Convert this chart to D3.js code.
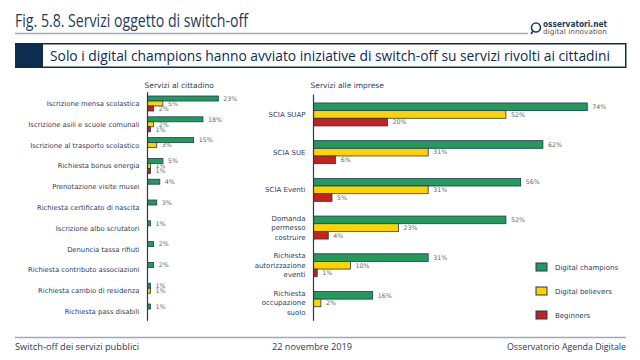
<!DOCTYPE html>
<html><head><meta charset="utf-8">
<script src="https://cdn.jsdelivr.net/npm/d3@7/dist/d3.min.js"></script>
<style>
body{margin:0;background:#fff;}
svg{display:block;font-family:"DejaVu Sans",sans-serif;}
</style></head>
<body><svg id="c" width="640" height="360"></svg>
<script>
const series = ["Digital champions","Digital believers","Beginners"];
const colors = ["#23995a","#ffd200","#c4211f"];

const citizenCats = ["Iscrizione mensa scolastica","Iscrizione asili e scuole comunali","Iscrizione al trasporto scolastico","Richiesta bonus energia","Prenotazione visite musei","Richiesta certificato di nascita","Iscrizione albo scrutatori","Denuncia tassa rifiuti","Richiesta contributo associazioni","Richiesta cambio di residenza","Richiesta pass disabili"];
const citizenChampions = [23,18,15,5,4,3,1,2,2,1,1];
const citizenBelievers = [5,2,3,1,0,0,0,0,0,1,0];
const citizenBeginners = [2,1,0,1,0,0,0,0,0,0,0];

const businessCats = ["SCIA SUAP","SCIA SUE","SCIA Eventi","Domanda|permesso|costruire","Richiesta|autorizzazione|eventi","Richiesta|occupazione|suolo"];
const businessChampions = [74,62,56,52,31,16];
const businessBelievers = [52,31,31,23,10,2];
const businessBeginners = [20,6,5,4,1,0];

const svg = d3.select("#c");
const navy = "#0d2d50";
const txt = "#2b405e";

// Header
svg.append("text").attr("x",15).attr("y",27).attr("font-size",19).attr("fill","#1f3a5a")
  .attr("font-family","'Open Sans',sans-serif").attr("textLength",233).attr("lengthAdjust","spacingAndGlyphs")
  .text("Fig. 5.8. Servizi oggetto di switch-off");
svg.append("line").attr("x1",15).attr("x2",528).attr("y1",33.5).attr("y2",33.5).attr("stroke","#9aabbd").attr("stroke-width",1.5);
// logo
svg.append("circle").attr("cx",536).attr("cy",27.5).attr("r",4.5).attr("fill","none").attr("stroke","#1f3a5a").attr("stroke-width",1.6);
svg.append("line").attr("x1",533).attr("y1",31).attr("x2",531).attr("y2",34).attr("stroke","#1f3a5a").attr("stroke-width",1.6);
svg.append("text").attr("x",543).attr("y",26.5).attr("font-size",8).attr("font-weight","bold").attr("fill","#1f3a5a")
  .attr("textLength",64).attr("lengthAdjust","spacingAndGlyphs").text("osservatori.net");
svg.append("text").attr("x",543).attr("y",33.5).attr("font-size",7).attr("fill","#555")
  .attr("textLength",64).attr("lengthAdjust","spacingAndGlyphs").text("digital innovation");

// Subtitle box
svg.append("rect").attr("x",15.75).attr("y",43.75).attr("width",610).attr("height",23.5).attr("fill","#fff").attr("stroke",navy).attr("stroke-width",1.5);
svg.append("rect").attr("x",15).attr("y",43).attr("width",28).attr("height",25).attr("fill",navy);
svg.append("text").attr("x",50).attr("y",60.5).attr("font-size",14.5).attr("fill",navy)
  .attr("font-family","'Open Sans',sans-serif").attr("textLength",560).attr("lengthAdjust","spacingAndGlyphs")
  .text("Solo i digital champions hanno avviato iniziative di switch-off su servizi rivolti ai cittadini");

// Footer
svg.append("line").attr("x1",15).attr("x2",626).attr("y1",337.5).attr("y2",337.5).attr("stroke","#9aabbd").attr("stroke-width",1.5);
const ft = svg.append("g").attr("font-size",9).attr("fill","#1f3a5a").attr("font-family","'Open Sans',sans-serif");
ft.append("text").attr("x",15).attr("y",350).attr("textLength",124).attr("lengthAdjust","spacingAndGlyphs").text("Switch-off dei servizi pubblici");
ft.append("text").attr("x",272).attr("y",350).attr("textLength",80).attr("lengthAdjust","spacingAndGlyphs").text("22 novembre 2019");
ft.append("text").attr("x",626).attr("y",350).attr("text-anchor","end").attr("textLength",119).attr("lengthAdjust","spacingAndGlyphs").text("Osservatorio Agenda Digitale");

function panel(cats, vals, opt){
  const g = svg.append("g");
  const y = d3.scaleBand().domain(cats).range(opt.yr).paddingInner(opt.pi).paddingOuter(opt.pi/2);
  const ys = d3.scaleBand().domain(series).range([0,y.bandwidth()]);
  const x = d3.scaleLinear().domain([0,opt.max]).range([opt.x0, opt.x1]);
  g.append("text").attr("x",opt.x0-3).attr("y",88).attr("font-size",7.5).attr("fill",txt).text(opt.title);
  cats.forEach((c,i)=>{
    series.forEach((s,j)=>{
      const v = vals[j][i];
      if(v<=0) return;
      g.append("rect").attr("x",x(0)).attr("y",y(c)+ys(s)).attr("width",x(v)-x(0)).attr("height",ys.bandwidth())
        .attr("fill",colors[j]).attr("stroke","#1f3a5a").attr("stroke-width",0.8);
      g.append("text").attr("x",x(v)+5).attr("y",y(c)+ys(s)+ys.bandwidth()/2+2.3).attr("font-size",opt.vfs).attr("fill","#666").text(v+"%");
    });
    const lines = c.split("|");
    const cy = y(c)+y.bandwidth()/2;
    const lh = 9.5;
    lines.forEach((l,k)=>{
      g.append("text").attr("x",opt.x0-8).attr("y",cy+(k-(lines.length-1)/2)*lh+2.5)
        .attr("text-anchor","end").attr("font-size",opt.lfs).attr("fill",txt).text(l);
    });
  });
  g.append("line").attr("x1",x(0)).attr("x2",x(0)).attr("y1",opt.yr[0]-1).attr("y2",opt.yr[1]-1).attr("stroke","#1f3a5a").attr("stroke-width",1.2);
}

panel(citizenCats,[citizenChampions,citizenBelievers,citizenBeginners],
  {yr:[93.1,321.9],pi:0.28,x0:147.5,x1:147.5+3.08*30,max:30,title:"Servizi al cittadino",vfs:6.3,lfs:6.8});
panel(businessCats,[businessChampions,businessBelievers,businessBeginners],
  {yr:[95.6,321.8],pi:0.39,x0:313.5,x1:313.5+3.7*80,max:80,title:"Servizi alle imprese",vfs:6.3,lfs:7});

// Legend
const lg = svg.append("g");
series.forEach((s,i)=>{
  const yy = 263+i*24;
  lg.append("rect").attr("x",536).attr("y",yy).attr("width",11).attr("height",8).attr("fill",colors[i]).attr("stroke","#1f3a5a").attr("stroke-width",1);
  lg.append("text").attr("x",555).attr("y",yy+6.5).attr("font-size",7).attr("fill",txt).text(s);
});
</script></body></html>
